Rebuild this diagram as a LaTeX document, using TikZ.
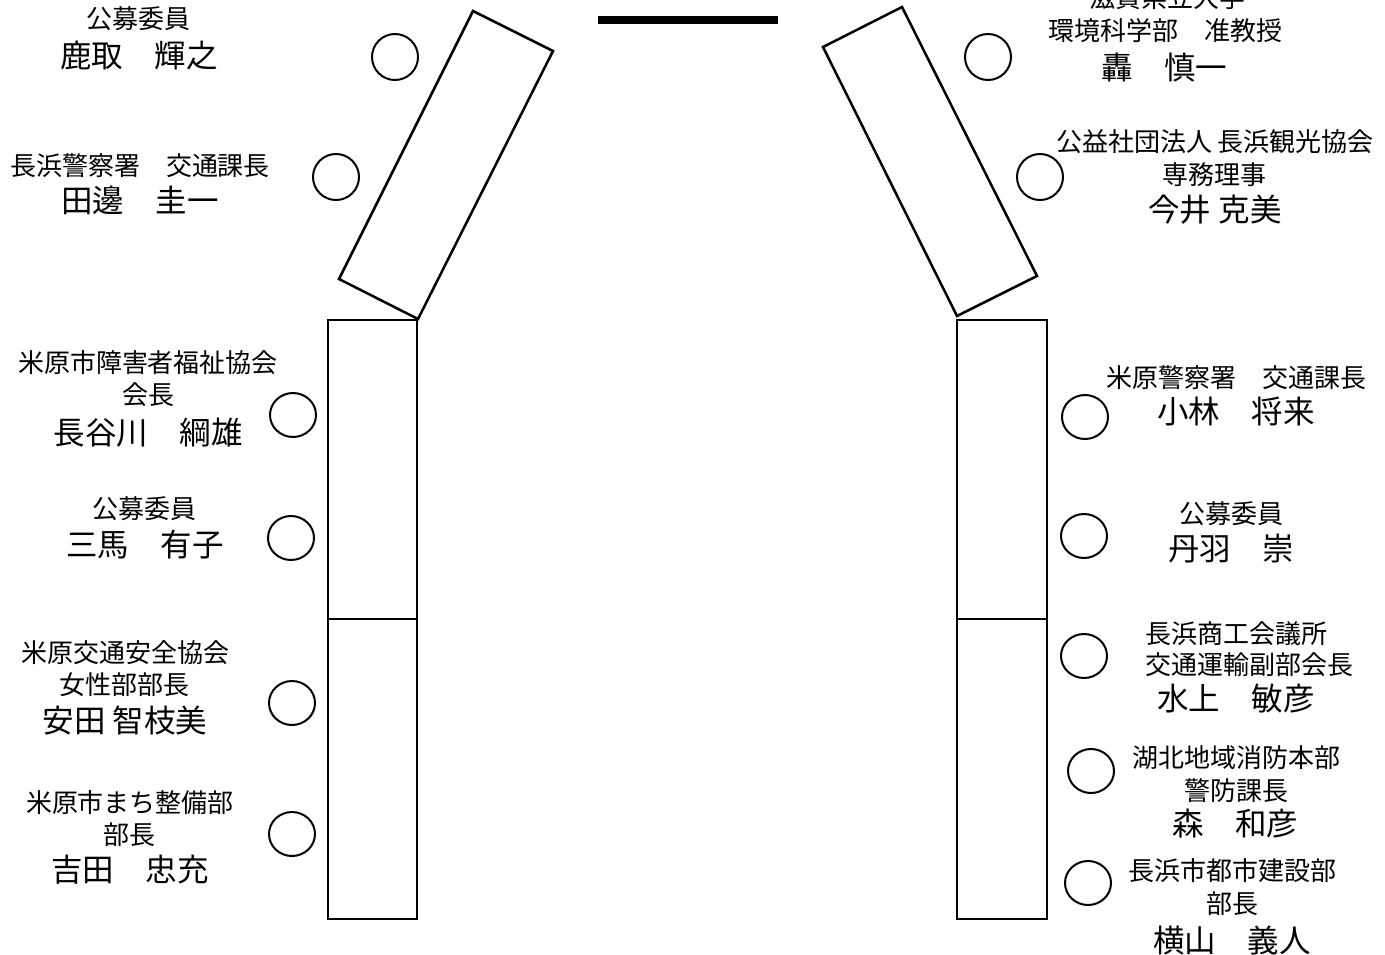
\documentclass[tikz,border=0pt]{standalone}
\usepackage{fontspec}
\setmainfont{Noto Sans CJK JP}
\tikzset{
  seat/.style={draw=black, line width=2.5pt, line join=miter, fill=white},
  chair/.style={draw=black, line width=2pt},
  role/.style={anchor=base, inner sep=0pt, font=\fontsize{26}{30}\selectfont},
  pname/.style={anchor=base, inner sep=0pt, font=\fontsize{31.5}{36}\selectfont},
}
\begin{document}
\begin{tikzpicture}[x=1pt, y=-1pt]
\useasboundingbox (0,0) rectangle (1385,954);
% chairman bar
\draw[line width=8pt] (598,20) -- (778,20);
% left tables
\draw[seat] (473,11) -- (553,51) -- (418,319) -- (339,279) -- cycle;
\draw[seat] (328,320) rectangle (417,619);
\draw[seat] (328,619) rectangle (417,919);
% right tables
\draw[seat] (823,47) -- (902,7) -- (1037,276) -- (957,316) -- cycle;
\draw[seat] (957,320) rectangle (1047,619);
\draw[seat] (957,619) rectangle (1047,919);
% left chairs
\draw[chair] (395,57) circle (23);
\draw[chair] (336,177) circle (23);
\draw[chair] (293,415) circle [x radius=23, y radius=22];
\draw[chair] (291,538) circle [x radius=23, y radius=22];
\draw[chair] (292,703) circle [x radius=23, y radius=22];
\draw[chair] (292,834) circle [x radius=23, y radius=22];
% right chairs
\draw[chair] (988,57) circle (23);
\draw[chair] (1040,177) circle (23);
\draw[chair] (1085,417) circle [x radius=23, y radius=22];
\draw[chair] (1084,536) circle [x radius=23, y radius=22];
\draw[chair] (1084,656) circle [x radius=23, y radius=22];
\draw[chair] (1091,771) circle [x radius=23, y radius=22];
\draw[chair] (1088,883) circle [x radius=23, y radius=22];
% left labels
\node[role]  (l1a) at (138,28)  {公募委員};
\node[pname] (l1b) at (139,67)  {鹿取　輝之};
\node[role]  (l2a) at (140,175) {長浜警察署　交通課長};
\node[pname] (l2b) at (140,212) {田邊　圭一};
\node[role]  (l3a) at (148,372) {米原市障害者福祉協会};
\node[role]  (l3b) at (148,404) {会長};
\node[pname] (l3c) at (148,444) {長谷川　綱雄};
\node[role]  (l4a) at (144,518) {公募委員};
\node[pname] (l4b) at (145,556) {三馬　有子};
\node[role]  (l5a) at (125,662) {米原交通安全協会};
\node[role]  (l5b) at (124,694) {女性部部長};
\node[pname] (l5c) at (125,732) {安田 智枝美};
\node[role]  (l6a) at (130,812) {米原市まち整備部};
\node[role]  (l6b) at (129,844) {部長};
\node[pname] (l6c) at (130,881) {吉田　忠充};
% right labels
\node[role]  (r1a) at (1167,7)   {滋賀県立大学};
\node[role]  (r1b) at (1165,40)  {環境科学部　准教授};
\node[pname] (r1c) at (1164,79)  {轟　慎一};
\node[role]  (r2a) at (1215,151) {公益社団法人 長浜観光協会};
\node[role]  (r2b) at (1214,184) {専務理事};
\node[pname] (r2c) at (1215,221) {今井 克美};
\node[role]  (r3a) at (1236,387) {米原警察署　交通課長};
\node[pname] (r3b) at (1236,423) {小林　将来};
\node[role]  (r4a) at (1231,523) {公募委員};
\node[pname] (r4b) at (1231,560) {丹羽　崇};
\node[role]  (r5a) at (1236,643) {長浜商工会議所};
\node[role]  (r5b) at (1249,674) {交通運輸副部会長};
\node[pname] (r5c) at (1236,710) {水上　敏彦};
\node[role]  (r6a) at (1236,767) {湖北地域消防本部};
\node[role]  (r6b) at (1236,800) {警防課長};
\node[pname] (r6c) at (1235,835) {森　和彦};
\node[role]  (r7a) at (1232,880) {長浜市都市建設部};
\node[role]  (r7b) at (1232,913) {部長};
\node[pname] (r7c) at (1232,952) {横山　義人};
\end{tikzpicture}
\end{document}
